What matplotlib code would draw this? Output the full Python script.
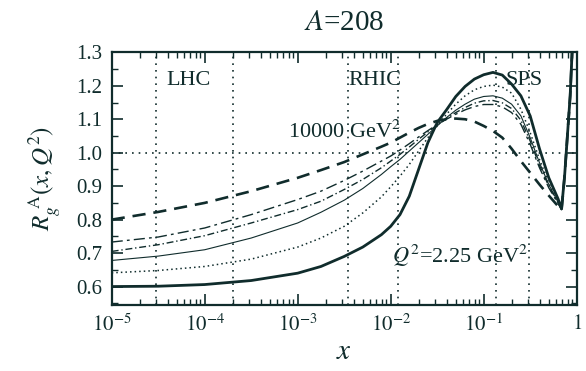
import matplotlib
matplotlib.use("Agg")
import matplotlib.pyplot as plt
from matplotlib.ticker import FixedLocator, FixedFormatter, MultipleLocator, NullFormatter
import numpy as np

plt.rcParams['font.family'] = ['Liberation Serif', 'DejaVu Serif']
plt.rcParams['mathtext.fontset'] = 'stix'

INK = '#102c2c'

# shared log10(x) grid
logx = [-5.0, -4.5, -4.0, -3.5, -3.0, -2.75, -2.5, -2.3, -2.1, -2.0, -1.9, -1.8, -1.7,
        -1.6, -1.5, -1.4, -1.3, -1.2, -1.1, -1.0, -0.9, -0.8, -0.7, -0.6, -0.5, -0.4,
        -0.3, -0.2, -0.163, -0.13, -0.1, -0.07, -0.04, -0.02]

r_225 = [0.600, 0.601, 0.606, 0.618, 0.640, 0.660, 0.690, 0.718, 0.755, 0.780, 0.815, 0.870, 0.950,
         1.030, 1.090, 1.128, 1.168, 1.198, 1.220, 1.233, 1.240, 1.232, 1.205, 1.170, 1.110, 1.012,
         0.925, 0.862, 0.832, 0.930, 1.050, 1.170, 1.360, 1.550]
r_5 = [0.641, 0.648, 0.660, 0.682, 0.718, 0.745, 0.780, 0.820, 0.868, 0.898, 0.930, 0.965, 1.005,
       1.045, 1.080, 1.115, 1.145, 1.170, 1.188, 1.198, 1.202, 1.196, 1.178, 1.130, 1.060, 0.980,
       0.910, 0.855, 0.831, 0.930, 1.050, 1.170, 1.360, 1.550]
r_10 = [0.678, 0.691, 0.710, 0.745, 0.790, 0.822, 0.858, 0.893, 0.935, 0.958, 0.980, 1.005, 1.030,
        1.055, 1.080, 1.105, 1.127, 1.145, 1.160, 1.168, 1.170, 1.163, 1.145, 1.110, 1.045, 0.970,
        0.905, 0.852, 0.830, 0.930, 1.050, 1.170, 1.360, 1.550]
r_100 = [0.705, 0.725, 0.752, 0.790, 0.830, 0.855, 0.890, 0.920, 0.955, 0.975, 0.995, 1.017, 1.040,
         1.062, 1.083, 1.102, 1.120, 1.135, 1.148, 1.155, 1.156, 1.149, 1.132, 1.097, 1.035, 0.962,
         0.900, 0.850, 0.830, 0.930, 1.050, 1.170, 1.360, 1.550]
r_1000 = [0.733, 0.748, 0.775, 0.815, 0.860, 0.885, 0.917, 0.945, 0.975, 0.990, 1.008, 1.027, 1.047,
          1.066, 1.084, 1.100, 1.115, 1.128, 1.138, 1.144, 1.144, 1.137, 1.120, 1.085, 1.025, 0.955,
          0.895, 0.848, 0.830, 0.930, 1.050, 1.170, 1.360, 1.550]
r_10000 = [0.800, 0.823, 0.850, 0.885, 0.925, 0.948, 0.972, 0.995, 1.018, 1.030, 1.045, 1.060, 1.074,
           1.086, 1.095, 1.100, 1.102, 1.100, 1.093, 1.080, 1.065, 1.045, 1.012, 0.975, 0.940, 0.905,
           0.872, 0.840, 0.828, 0.930, 1.050, 1.170, 1.360, 1.550]

grid_x = [3e-5, 2e-4, 3.5e-3, 1.2e-2, 0.135, 0.31]
grid_y = [1.0]

xticks = [1e-5, 1e-4, 1e-3, 1e-2, 1e-1, 1]
xticklabels = ['$10^{-5}$', '$10^{-4}$', '$10^{-3}$', '$10^{-2}$', '$10^{-1}$', '$1$']
yticks = [0.6, 0.7, 0.8, 0.9, 1.0, 1.1, 1.2, 1.3]
yticklabels = ['0.6', '0.7', '0.8', '0.9', '1.0', '1.1', '1.2', '1.3']

fig = plt.figure(figsize=(5.86, 3.71), dpi=100)
ax = fig.add_axes([0.1906, 0.178, 0.7935, 0.681])

x = 10.0 ** np.array(logx)

for gx in grid_x:
    ax.axvline(gx, color=INK, ls=(0, (1, 3)), lw=1.2, zorder=1)
for gy in grid_y:
    ax.axhline(gy, color=INK, ls=(0, (1, 3)), lw=1.2, zorder=1)

ax.plot(x, r_10000, color=INK, lw=1.9, ls=(0, (5, 3)), zorder=3)
ax.plot(x, r_1000, color=INK, lw=1.0, ls=(0, (8, 3, 2, 3)), zorder=3)
ax.plot(x, r_100, color=INK, lw=1.0, ls=(0, (5, 2, 1, 2)), zorder=3)
ax.plot(x, r_10, color=INK, lw=0.8, ls='-', zorder=3)
ax.plot(x, r_5, color=INK, lw=1.1, ls=(0, (1, 2)), zorder=3)
ax.plot(x, r_225, color=INK, lw=2.0, ls='-', zorder=4)

ax.set_xscale('log')
ax.set_xlim(1e-5, 1)
ax.set_ylim(0.545, 1.3)

ax.xaxis.set_major_locator(FixedLocator(xticks))
ax.xaxis.set_major_formatter(FixedFormatter(xticklabels))
minors = [m * 10.0 ** e for e in range(-5, 0) for m in range(2, 10)]
ax.xaxis.set_minor_locator(FixedLocator(minors))
ax.xaxis.set_minor_formatter(NullFormatter())
ax.yaxis.set_major_locator(FixedLocator(yticks))
ax.yaxis.set_major_formatter(FixedFormatter(yticklabels))
ax.yaxis.set_minor_locator(MultipleLocator(0.05))

ax.tick_params(which='both', direction='in', top=True, right=True, colors=INK,
               labelcolor=INK, labelsize=15)
ax.tick_params(which='major', length=8, width=1.2)
ax.tick_params(which='minor', length=4, width=1.0)
ax.tick_params(axis='x', which='major', pad=7)
ax.tick_params(axis='y', which='major', pad=7)
for s in ax.spines.values():
    s.set_color(INK)
    s.set_linewidth(1.6)

fs = 16
ax.text(10 ** -4.41, 1.217, 'LHC', fontsize=fs, color=INK, va='center', ha='left')
ax.text(10 ** -2.45, 1.217, 'RHIC', fontsize=fs, color=INK, va='center', ha='left')
ax.text(10 ** -0.77, 1.217, 'SPS', fontsize=fs, color=INK, va='center', ha='left')
ax.text(10 ** -3.10, 1.062, r'10000 GeV$^2$', fontsize=fs, color=INK, va='center', ha='left')
ax.text(10 ** -1.99, 0.693, r'$Q^2$=2.25 GeV$^2$', fontsize=fs, color=INK, va='center', ha='left')

fig.text(344 / 586, 1 - 23 / 371, r'$A$=208', fontsize=21, color=INK, ha='center', va='center')
ax.set_xlabel(r'$x$', fontsize=21, color=INK)
ax.xaxis.set_label_coords(0.5, -0.135)
ax.set_ylabel(r'$R_g^{\ \mathrm{A}}(x,Q^2)$', fontsize=18, color=INK)
ax.yaxis.set_label_coords(-0.105, 0.5)

fig.savefig('out.png', dpi=100)
